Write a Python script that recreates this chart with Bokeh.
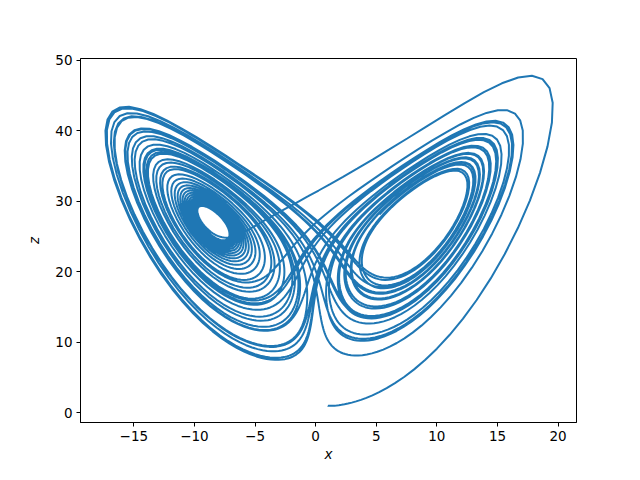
import numpy as np
from bokeh.plotting import figure
from bokeh.models import Range1d, FixedTicker
from bokeh.embed import file_html
from bokeh.resources import INLINE

# Lorenz system parameters (the chart is a trajectory of this system)
SIGMA = 10.0
RHO = 28.0
BETA = 8.0 / 3.0
START = [1.0, 1.0, 1.0]
T_END = 40.0
DT = 0.001

x_ticks = [-15, -10, -5, 0, 5, 10, 15, 20]
z_ticks = [0, 10, 20, 30, 40, 50]


def deriv(s):
    x, y, z = s
    return np.array([SIGMA * (y - x), x * (RHO - z) - y, x * y - BETA * z])


n = int(round(T_END / DT))
s = np.array(START, dtype=float)
xs = [s[0]]
zs = [s[2]]
for i in range(n):
    k1 = deriv(s)
    k2 = deriv(s + 0.5 * DT * k1)
    k3 = deriv(s + 0.5 * DT * k2)
    k4 = deriv(s + DT * k3)
    s = s + DT / 6.0 * (k1 + 2 * k2 + 2 * k3 + k4)
    if (i + 1) % 10 == 0:
        xs.append(s[0])
        zs.append(s[2])

p = figure(width=624, height=464, output_backend="svg", toolbar_location=None,
           x_range=Range1d(-19.4, 21.52), y_range=Range1d(-1.40, 50.28),
           min_border_left=80, min_border_right=48, min_border_top=58, min_border_bottom=37)
p.line(xs, zs, line_color="#1f77b4", line_width=2.0)

p.xgrid.visible = False
p.ygrid.visible = False
p.outline_line_color = "black"
p.outline_line_width = 1
p.outline_line_alpha = 1

for ax in (p.xaxis[0], p.yaxis[0]):
    ax.minor_tick_line_color = None
    ax.major_tick_out = 4
    ax.major_tick_in = 0
    ax.major_label_text_font = "DejaVu Sans"
    ax.major_label_text_font_size = "13.5px"
    ax.major_label_text_color = "black"
    ax.axis_label_text_font = "DejaVu Sans"
    ax.axis_label_text_font_size = "13.5px"
    ax.axis_label_text_font_style = "italic"
    ax.axis_label_text_color = "black"
    ax.axis_line_color = "black"

p.xaxis[0].ticker = FixedTicker(ticks=x_ticks)
p.yaxis[0].ticker = FixedTicker(ticks=z_ticks)
p.xaxis[0].axis_label = "x"
p.yaxis[0].axis_label = "z"
p.xaxis[0].major_label_standoff = 4
p.yaxis[0].major_label_standoff = 4
p.xaxis[0].axis_label_standoff = 2
p.yaxis[0].axis_label_standoff = 10

open("out.html", "w").write(file_html(p, INLINE))
